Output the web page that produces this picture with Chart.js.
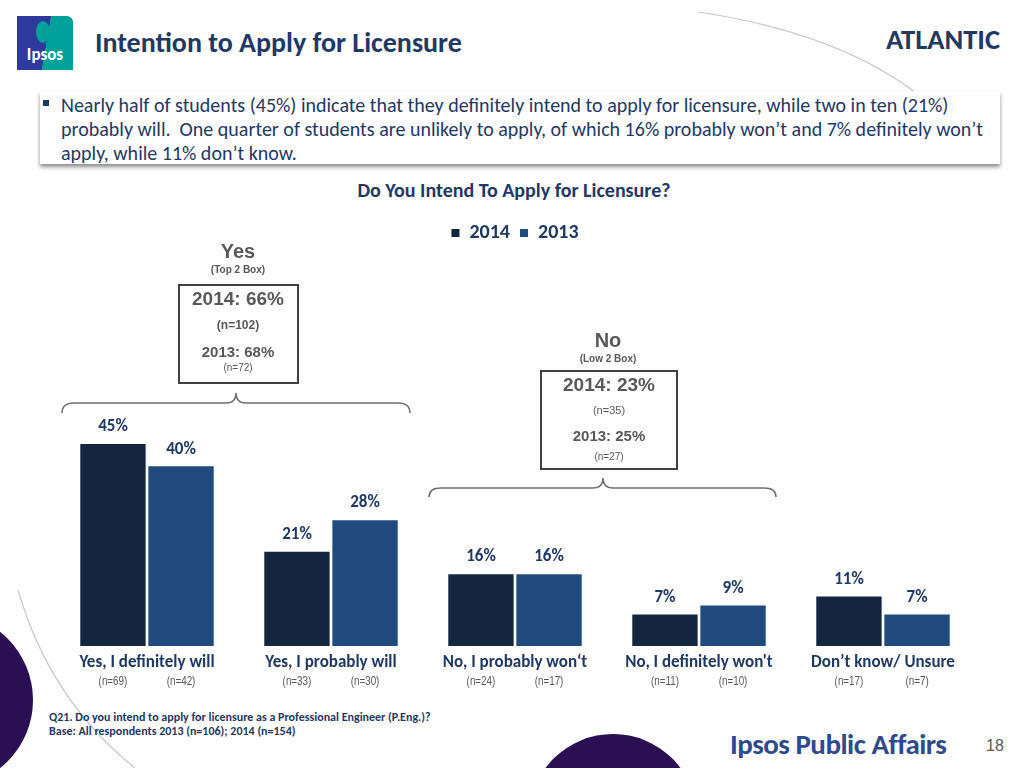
<!DOCTYPE html>
<html>
<head>
<meta charset="utf-8">
<script src="https://cdn.jsdelivr.net/npm/chart.js@4.4.0/dist/chart.umd.min.js"></script>
<style>
  html, body { margin: 0; padding: 0; }
  body { width: 1024px; height: 768px; position: relative; overflow: hidden; background: #fff; font-family: Carlito, Lato, "Open Sans", sans-serif; }
  .abs { position: absolute; }
  #chartWrap { position: absolute; left: 55px; top: 213px; width: 920px; height: 478px; }
  .navy { color: #1F3864; }
  .arial { font-family: "Liberation Sans", Arial, sans-serif; color: #595959; font-weight: bold; text-align: center; }
  .box { border: 2px solid #404040; box-sizing: border-box; }
</style>
</head>
<body>
<!-- decorations -->
<svg class="abs" style="left:0;top:0" width="1024" height="768">
  <path d="M 698 12 Q 835 32 915 92" fill="none" stroke="#c8c8c8" stroke-width="1.2"/>
  <path d="M 18 590 Q 50 700 135 768" fill="none" stroke="#c8c8c8" stroke-width="1.2"/>
  <circle cx="-54" cy="700" r="87" fill="#2A1052"/>
  <circle cx="613" cy="818" r="84" fill="#2A1052"/>
  <!-- braces -->
  <path d="M 62 413 Q 62 403 74 403 L 226 403 Q 236 403 236 393 Q 236 403 246 403 L 398 403 Q 410 403 410 413" fill="none" stroke="#6f6f6f" stroke-width="1.5"/>
  <path d="M 429 497 Q 429 488 441 488 L 593 488 Q 603 488 603 478 Q 603 488 613 488 L 764 488 Q 776 488 776 497" fill="none" stroke="#6f6f6f" stroke-width="1.5"/>
</svg>

<!-- logo -->
<div class="abs" style="left:17px;top:16px;width:56px;height:54px;background:linear-gradient(100deg,#2E3B9C 0 52%,#00A19B 52% 100%);border-radius:0 6px 0 0;"></div>
<div class="abs" style="left:36px;top:21px;width:14px;height:22px;background:#00A19B;border-radius:50%;"></div>
<div class="abs" style="left:17px;top:44px;width:56px;text-align:center;color:#fff;font-weight:bold;font-size:17px;">Ipsos</div>

<div class="abs navy" style="left:95px;top:25px;font-size:28px;font-weight:bold;white-space:nowrap;">Intention to Apply for Licensure</div>
<div class="abs navy" style="left:886px;top:22px;font-size:28.5px;font-weight:bold;">ATLANTIC</div>

<!-- summary box -->
<div class="abs" style="left:40px;top:91px;width:960px;height:73px;background:#fff;box-shadow:0 3px 4px rgba(0,0,0,0.45);"></div>
<div class="abs" style="left:43px;top:100px;width:6px;height:6px;background:#1F3864;"></div>
<div class="abs navy" style="left:61px;top:93px;white-space:nowrap;font-size:20px;line-height:24px;">Nearly half of students (45%) indicate that they definitely intend to apply for licensure, while two in ten (21%)<br>probably will.&nbsp; One quarter of students are unlikely to apply, of which 16% probably won’t and 7% definitely won’t<br>apply, while 11% don’t know.</div>

<div class="abs navy" style="left:0;width:1028px;top:178px;text-align:center;font-size:20px;font-weight:bold;">Do You Intend To Apply for Licensure?</div>

<div id="chartWrap"><canvas id="chart"></canvas></div>

<!-- Yes box -->
<div class="abs arial" style="left:178px;top:240px;width:120px;font-size:20px;">Yes</div>
<div class="abs arial" style="left:178px;top:264px;width:120px;font-size:10px;">(Top 2 Box)</div>
<div class="abs box" style="left:178px;top:284px;width:121px;height:100px;"></div>
<div class="abs arial" style="left:178px;top:288px;width:120px;font-size:19px;">2014: 66%</div>
<div class="abs arial" style="left:178px;top:318px;width:120px;font-size:12px;">(n=102)</div>
<div class="abs arial" style="left:178px;top:343px;width:120px;font-size:15px;">2013: 68%</div>
<div class="abs arial" style="left:178px;top:362px;width:120px;font-size:10px;font-weight:normal;">(n=72)</div>

<!-- No box -->
<div class="abs arial" style="left:548px;top:329px;width:120px;font-size:20px;">No</div>
<div class="abs arial" style="left:548px;top:353px;width:120px;font-size:10px;">(Low 2 Box)</div>
<div class="abs box" style="left:540px;top:370px;width:138px;height:100px;"></div>
<div class="abs arial" style="left:540px;top:374px;width:138px;font-size:19px;">2014: 23%</div>
<div class="abs arial" style="left:540px;top:404px;width:138px;font-size:11px;font-weight:normal;">(n=35)</div>
<div class="abs arial" style="left:540px;top:427px;width:138px;font-size:15px;">2013: 25%</div>
<div class="abs arial" style="left:540px;top:451px;width:138px;font-size:10px;font-weight:normal;">(n=27)</div>

<!-- footer -->
<div class="abs navy" style="left:49px;top:710px;font-size:12px;font-weight:bold;line-height:14px;">Q21. Do you intend to apply for licensure as a Professional Engineer (P.Eng.)?<br>Base: All respondents 2013 (n=106); 2014 (n=154)</div>
<div class="abs" style="left:730px;top:726px;font-size:29px;font-weight:bold;color:#2E4A8F;white-space:nowrap;letter-spacing:-0.5px;">Ipsos Public Affairs</div>
<div class="abs" style="left:986px;top:737px;font-size:16px;color:#595959;font-family:'Liberation Sans',Arial,sans-serif;">18</div>

<script>
// Categorías y valores (%)
const categories = ["Yes, I definitely will", "Yes, I probably will", "No, I probably won‘t", "No, I definitely won't", "Don’t know/ Unsure"];
const series2014 = [45, 21, 16, 7, 11];
const series2013 = [40, 28, 16, 9, 7];
// Bases por barra
const base2014 = ["(n=69)", "(n=33)", "(n=24)", "(n=11)", "(n=17)"];
const base2013 = ["(n=42)", "(n=30)", "(n=17)", "(n=10)", "(n=7)"];
const seriesNames = ["2014", "2013"];

const navy = "#1F3864";
const bases = [base2014, base2013];

// Etiquetas de valor, categorías y bases
const labelsPlugin = {
    id: "labels",
    afterDatasetsDraw(chart) {
        const ctx = chart.ctx;
        const area = chart.chartArea;
        ctx.save();
        ctx.textAlign = "center";
        ctx.textBaseline = "middle";
        chart.data.datasets.forEach((ds, di) => {
            const meta = chart.getDatasetMeta(di);
            meta.data.forEach((bar, i) => {
                ctx.fillStyle = navy;
                ctx.font = "bold 17px Carlito, Lato, sans-serif";
                ctx.fillText(ds.data[i] + "%", bar.x, bar.y - 17);
                // base en fuente estrecha
                ctx.save();
                ctx.translate(bar.x, area.bottom + 36);
                ctx.scale(0.82, 1);
                ctx.fillStyle = "#595959";
                ctx.font = "12px 'Liberation Sans', sans-serif";
                ctx.fillText(bases[di][i], 0, 0);
                ctx.restore();
            });
        });
        const xScale = chart.scales.x;
        ctx.fillStyle = navy;
        ctx.font = "bold 17px Carlito, Lato, sans-serif";
        categories.forEach((c, i) => {
            ctx.fillText(c, xScale.getPixelForValue(i), area.bottom + 17);
        });
        ctx.restore();
    }
};

const ctx = document.getElementById("chart").getContext("2d");
const chart = new Chart(ctx, {
    type: "bar",
    data: {
        labels: categories,
        datasets: [
            { label: seriesNames[0], data: series2014, backgroundColor: "#14253F" },
            { label: seriesNames[1], data: series2013, backgroundColor: "#214A7E" }
        ]
    },
    options: {
        responsive: true,
        maintainAspectRatio: false,
        animation: false,
        categoryPercentage: 0.74,
        barPercentage: 0.96,
        layout: { padding: { bottom: 45 } },
        plugins: {
            legend: {
                display: true,
                position: "top",
                labels: {
                    boxWidth: 8,
                    boxHeight: 8,
                    color: navy,
                    font: { family: "Carlito, Lato, sans-serif", size: 20, weight: "bold" }
                }
            },
            tooltip: { enabled: false }
        },
        scales: {
            x: { display: false },
            y: { display: false, min: 0, max: 87.5 }
        }
    },
    plugins: [labelsPlugin]
});
</script>
</body>
</html>
